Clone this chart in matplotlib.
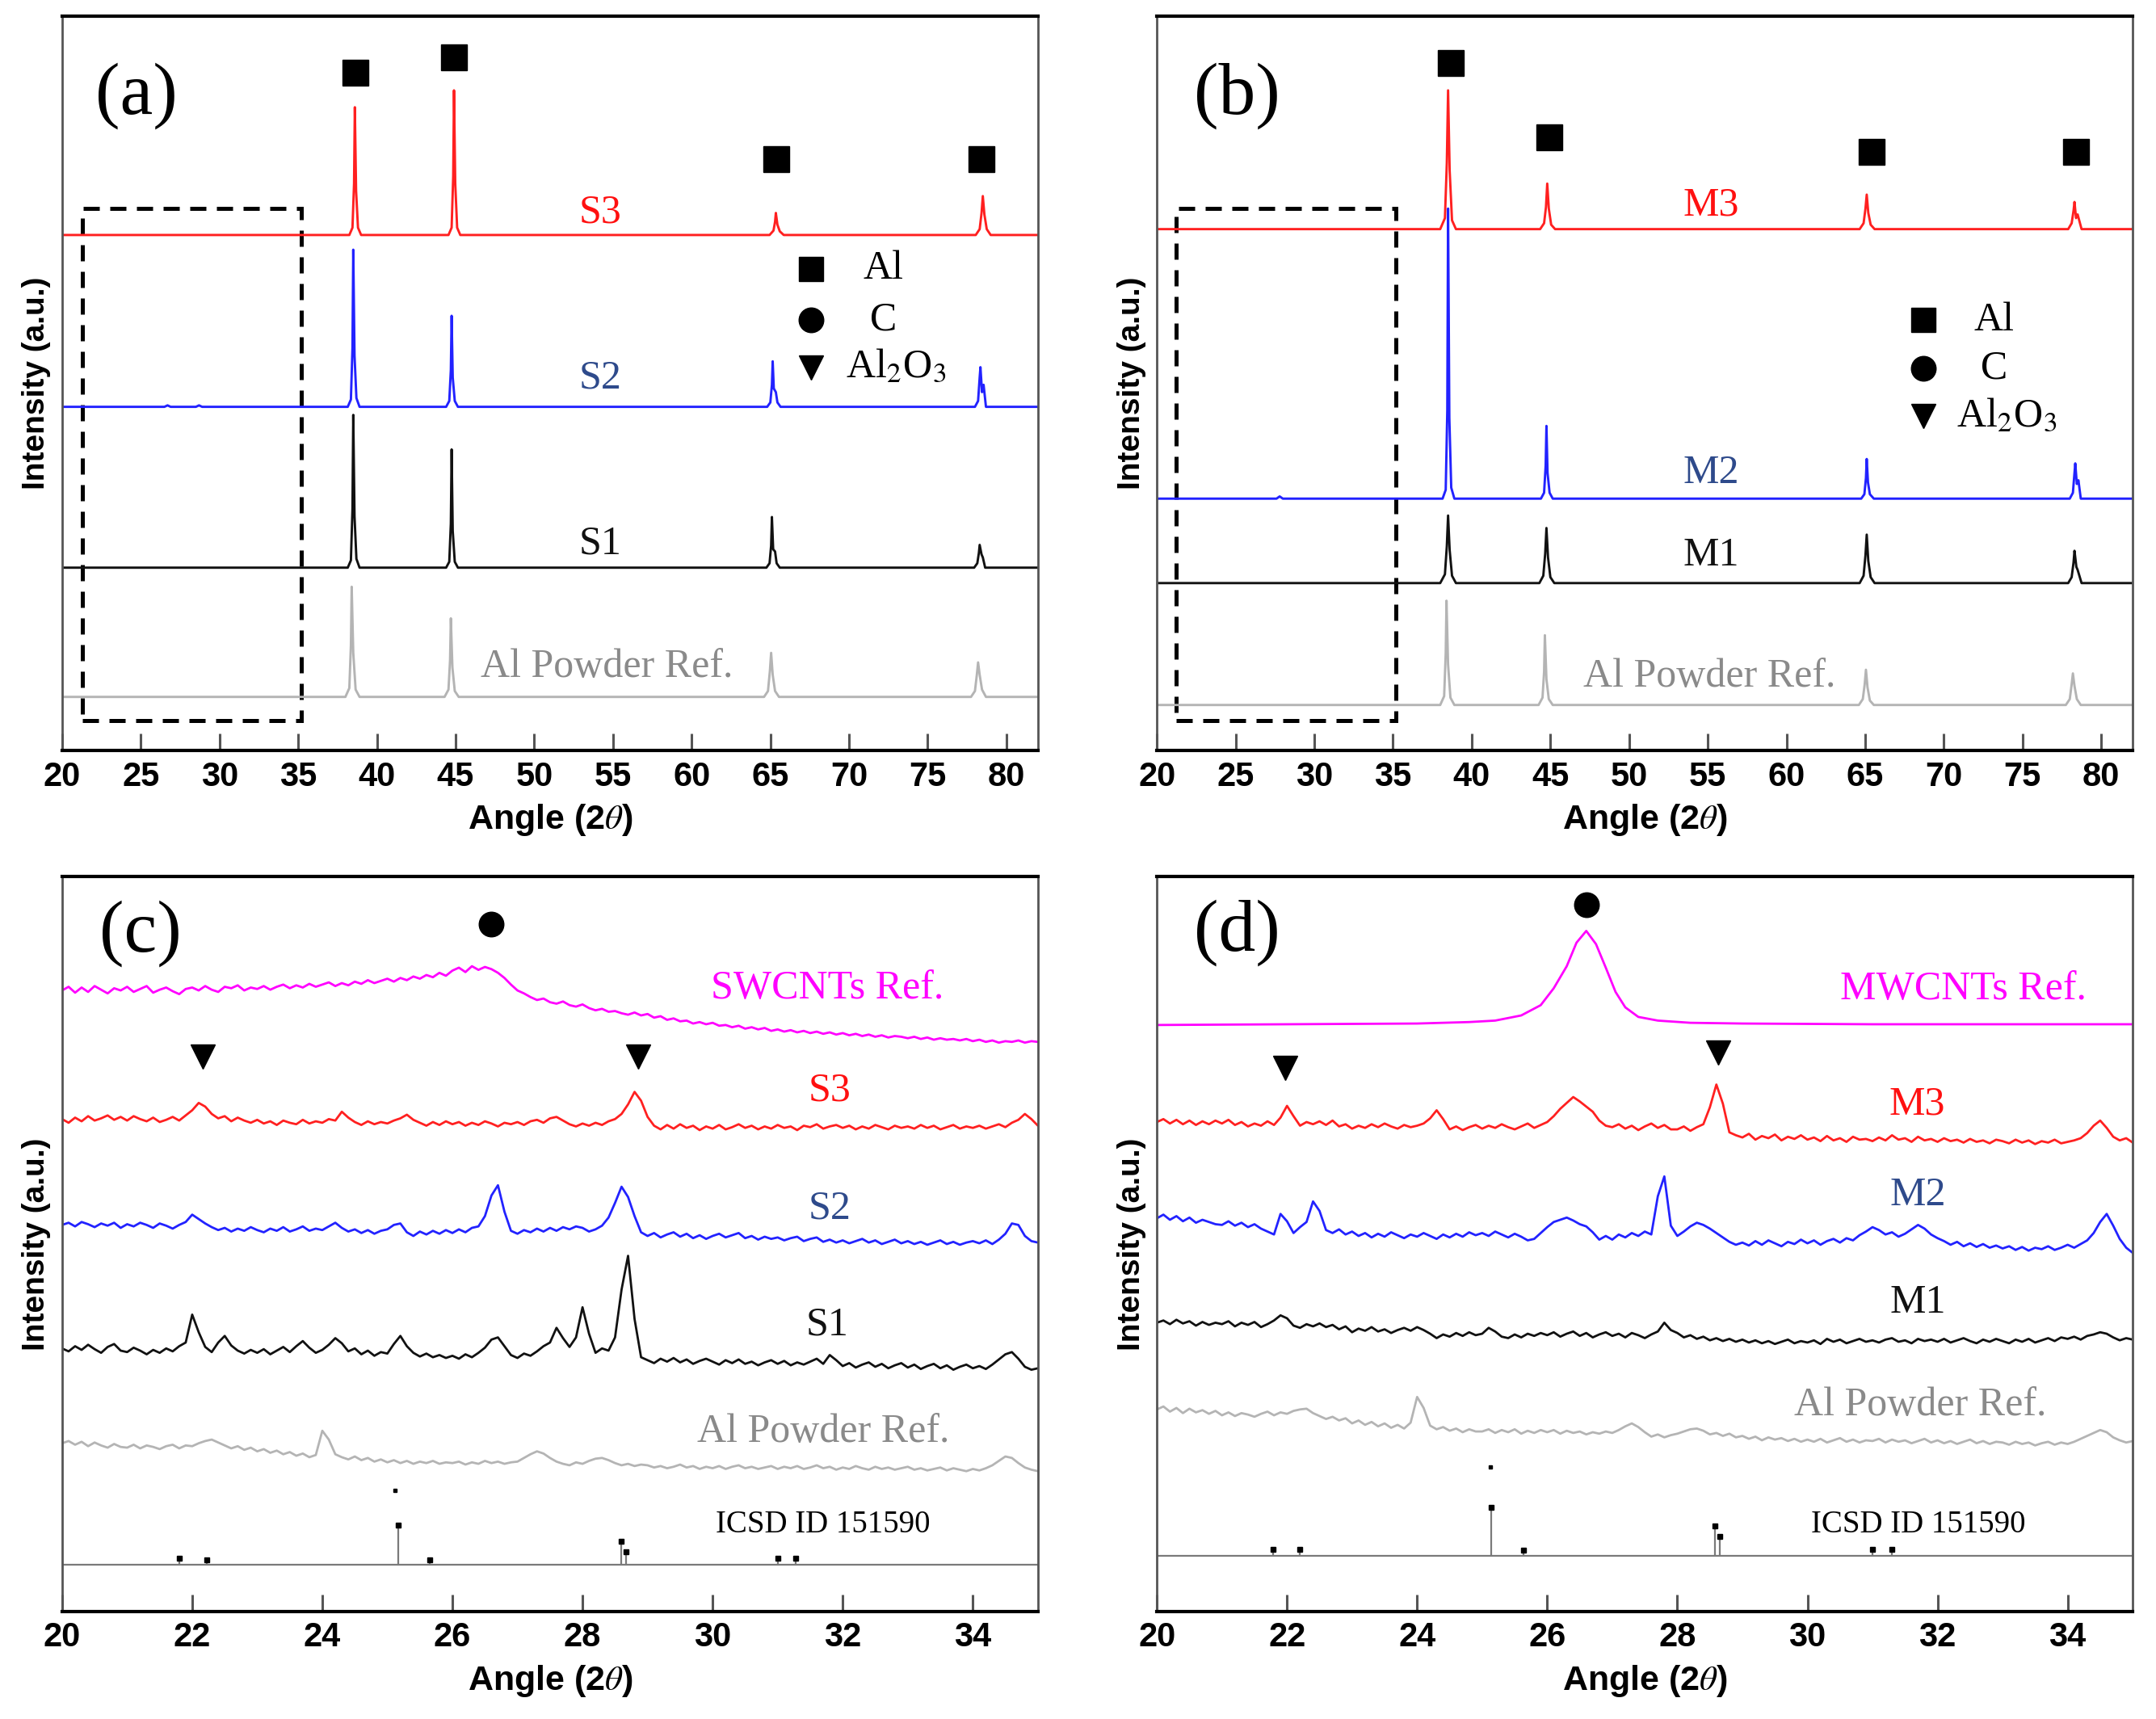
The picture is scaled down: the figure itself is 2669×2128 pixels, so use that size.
import numpy as np
import matplotlib
matplotlib.use('Agg')
import matplotlib.pyplot as plt
from matplotlib.patches import Rectangle

plt.rcParams['mathtext.fontset'] = 'stix'

# ---------------- data: panel (a), full range, SWCNT composites ----------------
# intensities in a.u. (panel height = 1000), each trace listed relative to its stack offset
a_al_x = [20, 38.0, 38.25, 38.35, 38.4, 38.5, 38.65, 38.9, 44.3, 44.55, 44.65, 44.7, 44.8, 44.95, 45.2,
          64.6, 64.85, 64.97, 65.05, 65.15, 65.3, 65.55, 77.75, 78.0, 78.12, 78.2, 78.3, 78.45, 78.7, 82]
a_al_y = [0, 0, 12, 70, 150, 60, 10, 0, 0, 10, 50, 107, 40, 8, 0,
          0, 8, 35, 60, 30, 8, 0, 0, 8, 30, 47, 30, 10, 0, 0]
a_s1_x = [20, 38.15, 38.35, 38.45, 38.5, 38.58, 38.7, 38.9, 44.4, 44.6, 44.7, 44.75, 44.82, 44.95, 45.15,
          64.75, 64.95, 65.05, 65.1, 65.18, 65.3, 65.4, 65.6, 77.95, 78.15, 78.25, 78.3, 78.42, 78.5, 78.65, 82]
a_s1_y = [0, 0, 10, 80, 208, 70, 12, 0, 0, 8, 60, 161, 50, 8, 0,
          0, 6, 30, 69, 25, 22, 6, 0, 0, 6, 20, 31, 18, 14, 0, 0]
a_s2_x = [20, 26.5, 26.7, 26.9, 28.5, 28.7, 28.9, 38.15, 38.35, 38.45, 38.5, 38.58, 38.7, 38.9,
          44.4, 44.6, 44.7, 44.75, 44.82, 44.95, 45.15, 64.8, 65.0, 65.1, 65.15, 65.22, 65.35, 65.45, 65.65,
          78.0, 78.2, 78.3, 78.35, 78.45, 78.55, 78.7, 82]
a_s2_y = [0, 0, 2, 0, 0, 2, 0, 0, 10, 80, 214, 70, 12, 0,
          0, 8, 50, 124, 40, 8, 0, 0, 6, 30, 62, 25, 20, 6, 0,
          0, 8, 40, 54, 20, 30, 0, 0]
a_s3_x = [20, 38.25, 38.45, 38.55, 38.6, 38.68, 38.8, 39.0, 44.55, 44.75, 44.85, 44.9, 44.98, 45.1, 45.3,
          64.95, 65.2, 65.3, 65.35, 65.45, 65.6, 65.85, 78.05, 78.3, 78.42, 78.5, 78.6, 78.75, 79.0, 82]
a_s3_y = [0, 0, 10, 70, 174, 60, 10, 0, 0, 10, 80, 197, 70, 10, 0,
          0, 6, 18, 30, 14, 5, 0, 0, 8, 30, 53, 28, 8, 0, 0]
a_offsets = [73, 249, 468, 702]
a_names = ['Al Powder Ref.', 'S1', 'S2', 'S3']
a_al_peaks = [38.63, 44.9, 65.4, 78.4]
a_al_marks = [923, 944, 805, 805]

# ---------------- data: panel (b), full range, MWCNT composites ----------------
b_al_x = [20, 38.0, 38.25, 38.35, 38.4, 38.5, 38.65, 38.9, 44.25, 44.5, 44.6, 44.65, 44.75, 44.9, 45.15,
          64.6, 64.85, 64.97, 65.05, 65.15, 65.3, 65.55, 77.75, 78.0, 78.12, 78.2, 78.3, 78.45, 78.7, 82]
b_al_y = [0, 0, 12, 70, 142, 55, 10, 0, 0, 10, 45, 95, 35, 8, 0,
          0, 8, 28, 48, 24, 6, 0, 0, 8, 28, 43, 26, 8, 0, 0]
b_m1_x = [20, 38.0, 38.3, 38.42, 38.5, 38.6, 38.75, 39.0, 44.3, 44.55, 44.67, 44.75, 44.85, 45.0, 45.25,
          64.65, 64.9, 65.02, 65.1, 65.2, 65.35, 65.6, 77.9, 78.12, 78.24, 78.3, 78.42, 78.5, 78.75, 82]
b_m1_y = [0, 0, 12, 50, 92, 45, 10, 0, 0, 10, 40, 75, 35, 8, 0,
          0, 10, 38, 66, 30, 8, 0, 0, 8, 28, 44, 22, 18, 0, 0]
b_m2_x = [20, 27.6, 27.8, 28.0, 38.15, 38.35, 38.45, 38.5, 38.58, 38.7, 38.9,
          44.4, 44.6, 44.7, 44.75, 44.82, 44.95, 45.15, 64.75, 64.95, 65.05, 65.1, 65.18, 65.3, 65.55,
          78.0, 78.2, 78.3, 78.35, 78.45, 78.55, 78.7, 82]
b_m2_y = [0, 0, 3, 0, 0, 12, 120, 395, 110, 15, 0,
          0, 8, 45, 99, 35, 8, 0, 0, 6, 28, 54, 22, 6, 0,
          0, 8, 35, 48, 20, 25, 0, 0]
b_m3_x = [20, 38.0, 38.3, 38.42, 38.5, 38.6, 38.75, 39.0, 44.35, 44.6, 44.72, 44.8, 44.9, 45.05, 45.3,
          64.65, 64.9, 65.02, 65.1, 65.2, 65.35, 65.6, 77.9, 78.12, 78.24, 78.3, 78.4, 78.5, 78.75, 82]
b_m3_y = [0, 0, 15, 90, 189, 80, 12, 0, 0, 8, 30, 62, 28, 6, 0,
          0, 8, 28, 47, 22, 6, 0, 0, 8, 25, 37, 15, 20, 0, 0]
b_offsets = [62, 228, 343, 710]
b_names = ['Al Powder Ref.', 'M1', 'M2', 'M3']
b_al_peaks = [38.67, 44.95, 65.4, 78.4]
b_al_marks = [936, 835, 815, 815]

# ---------------- data: panel (c), 20-35 deg zoom, SWCNT composites (step 0.1 deg) ----------------
c_swcnt = [0, 5, -3, 4, -2, 6, 1, -4, 3, 0,
           5, -2, 2, 6, -3, 1, 4, -1, -5, 2,
           4, 0, 6, 1, -2, 5, 3, 7, 0, 4,
           2, 6, 1, 5, 8, 3, 7, 4, 9, 5,
           8, 11, 6, 10, 7, 12, 9, 14, 10, 13,
           16, 12, 17, 14, 19, 16, 21, 18, 24, 20,
           27, 31, 25, 33, 28, 32, 29, 24, 17, 8,
           0, -4, -9, -13, -11, -16, -18, -15, -20, -22,
           -19, -24, -27, -25, -29, -28, -31, -33, -30, -34,
           -32, -37, -35, -40, -38, -42, -41, -45, -43, -46,
           -44, -48, -47, -50, -48, -52, -50, -53, -51, -55,
           -53, -56, -54, -57, -55, -58, -56, -59, -57, -60,
           -58, -61, -59, -62, -60, -63, -61, -64, -62, -63,
           -65, -63, -66, -64, -67, -65, -67, -66, -68, -66,
           -69, -67, -70, -68, -71, -69, -70, -68, -71, -69, -70]
c_s3 = [5, 0, 7, 2, 9, 3, 6, 10, 4, 8,
        3, 9, 5, 2, 7, 1, 4, 8, 3, 10,
        17, 27, 22, 12, 6, 9, 2, 7, 3, 0,
        4, -1, 2, -3, 3, 0, -2, 4, -1, 2,
        0, 5, 3, 15, 7, 1, -3, 2, -2, 1,
        -1, 3, 6, 11, 4, 0, -4, 1, -3, 2,
        -2, 1, -4, 0, -3, 2, -1, -5, 0, -2,
        1, -3, 2, 4, 0, 6, 8, 3, -2, -5,
        -1, -4, 0, -3, 2, 5, 12, 25, 42, 30,
        8, -4, -9, -3, -8, -2, -7, -4, -10, -5,
        -8, -3, -9, -6, -2, -7, -4, -9, -5, -8,
        -3, -7, -5, -10, -4, -6, -2, -8, -5, -3,
        -7, -4, -9, -5, -8, -3, -6, -9, -4, -7,
        -5, -8, -3, -7, -4, -9, -6, -3, -8, -5,
        -7, -4, -8, -5, -2, -6, 0, 4, 12, 5, -4]
c_s2 = [0, 3, -2, 4, 1, -3, 2, -1, 3, -4,
        1, -2, 3, 0, -4, 2, -1, -5, 0, 4,
        14, 8, 2, -3, -7, -4, -9, -5, -8, -3,
        -7, -10, -5, -8, -3, -9, -6, -2, -8, -5,
        -7, -2, 3, -4, -9, -6, -11, -7, -12, -8,
        -6, 0, 2, -10, -15, -9, -13, -8, -12, -7,
        -11, -6, -10, -4, -2, 12, 40, 54, 18, -8,
        -12, -7, -10, -5, -9, -4, -8, -3, -6, -2,
        -4, -9, -6, -1, 10, 30, 52, 38, 12, -10,
        -15, -11, -17, -13, -10, -16, -12, -18, -14, -19,
        -15, -12, -17, -14, -11, -18, -15, -20, -16, -19,
        -17, -21, -18, -16, -22, -19, -17, -23, -20, -24,
        -21, -25, -22, -19, -24, -21, -26, -23, -20, -25,
        -22, -26, -23, -27, -24, -21, -26, -23, -27, -24,
        -22, -25, -21, -26, -20, -12, 2, 0, -15, -22, -24]
c_s1 = [0, -4, 3, -2, 5, -1, -6, 2, 6, -3,
        -5, 1, -3, -8, -2, -6, 0, -4, 3, 8,
        46, 22, 2, -5, 8, 17, 4, -3, -7, -2,
        -6, -1, -8, -3, 2, -5, 3, 10, 1, -6,
        -2, 5, 14, 7, -4, 0, -8, -3, -10, -5,
        -7, 6, 17, 3, -6, -11, -7, -12, -9, -13,
        -10, -14, -8, -12, -6, 1, 12, 15, 3, -9,
        -13, -7, -10, -4, 3, 8, 28, 14, 2, 15,
        56, 20, -6, 0, -3, 15, 80, 126, 40, -12,
        -16, -20, -14, -18, -13, -19, -15, -21, -17, -14,
        -18, -22, -16, -20, -15, -21, -18, -23, -19, -16,
        -21, -17, -23, -19, -22, -18, -14, -21, -9, -16,
        -24, -20, -26, -22, -19, -25, -21, -27, -23, -20,
        -26, -22, -28, -24, -21, -27, -23, -29, -25, -22,
        -27, -24, -28, -22, -15, -8, -5, -14, -25, -29, -27]
c_al = [0, 3, -2, 2, -4, 1, -3, -6, -1, -5,
        -6, -2, -7, -3, -5, -8, -4, -2, -7, -3,
        -4, 0, 3, 5, 1, -3, -7, -4, -9, -6,
        -11, -8, -13, -10, -15, -12, -17, -14, -19, -16,
        17, 5, -15, -19, -22, -18, -23, -20, -25, -22,
        -26, -23, -27, -24, -28, -25, -27, -24, -28, -26,
        -27, -25, -29, -26, -28, -24, -27, -25, -28, -26,
        -25, -20, -15, -11, -14, -20, -25, -28, -30, -26,
        -28, -24, -21, -20, -23, -27, -30, -28, -31, -29,
        -30, -33, -31, -34, -32, -29, -33, -31, -35, -32,
        -34, -31, -35, -32, -30, -34, -32, -35, -33, -31,
        -35, -32, -34, -31, -35, -33, -30, -34, -32, -36,
        -33, -35, -31, -34, -36, -32, -35, -33, -36, -34,
        -32, -36, -34, -37, -35, -33, -37, -34, -36, -38,
        -35, -37, -34, -30, -24, -18, -20, -27, -33, -36, -38]
c_offsets = [229, 358, 526, 665, 845]
c_names = ['Al Powder Ref.', 'S1', 'S2', 'S3', 'SWCNTs Ref.']
c_icsd_pos = [21.8, 22.23, 25.17, 25.65, 28.6, 28.67, 31.0, 31.28]
c_icsd_h = [8, 6, 54, 6, 32, 17, 8, 8]
c_icsd_base = 64

# ---------------- data: panel (d), 20-35 deg zoom, MWCNT composites (step 0.1 deg) ----------------
d_mwcnt_x = [20, 22, 24, 24.8, 25.2, 25.6, 25.9, 26.1, 26.3, 26.45, 26.6, 26.75, 26.9, 27.05,
             27.2, 27.4, 27.7, 28.2, 29, 31, 35]
d_mwcnt_y = [0, 1, 2, 4, 6, 13, 27, 50, 80, 112, 128, 110, 78, 45,
             24, 11, 6, 3, 2, 1, 1]
d_m3 = [0, 4, -2, 3, -3, 2, -4, 1, -3, 2,
        -2, 3, -4, 0, -6, -2, -5, 1, -4, 6,
        22, 8, -5, 0, -3, 1, -4, 2, -6, -3,
        -9, -5, -8, -3, -7, -2, -6, -9, -4, -7,
        -5, -2, 5, 16, 4, -10, -6, -11, -7, -4,
        -9, -5, -8, -3, -7, -10, -6, -2, -8, -4,
        0, 8, 18, 26, 34, 28, 21, 14, 2, -5,
        -7, -3, -9, -5, -11, -6, -2, -8, -4, -10,
        -10, -6, -12, -7, -3, 20, 51, 25, -14, -18,
        -21, -16, -24, -19, -22, -17, -25, -20, -23, -18,
        -24, -21, -26, -19, -25, -22, -27, -20, -24, -23,
        -26, -21, -25, -18, -24, -22, -27, -20, -25, -23,
        -27, -22, -26, -24, -28, -23, -27, -25, -29, -24,
        -26, -29, -24, -28, -25, -30, -26, -28, -24, -29,
        -27, -25, -22, -15, -5, 2, -8, -20, -25, -22, -28]
d_m2 = [0, 5, -2, 3, -4, 1, -6, -2, -5, -8,
        -9, -4, -10, -6, -12, -8, -14, -18, -22, 6,
        -4, -20, -12, -5, 23, 10, -16, -20, -15, -22,
        -18, -24, -20, -26, -21, -25, -19, -23, -27, -22,
        -25, -20, -24, -28, -22, -26, -21, -25, -19, -23,
        -20, -24, -18, -22, -26, -21, -25, -30, -28, -20,
        -12, -5, -2, 1, -3, -8, -11, -19, -29, -24,
        -29, -22, -26, -20, -24, -18, -22, 30, 57, -10,
        -24, -18, -11, -6, -9, -14, -20, -26, -32, -36,
        -33, -37, -31, -36, -30, -34, -38, -32, -35, -29,
        -34, -30, -36, -31, -28, -33, -27, -30, -23, -18,
        -12, -16, -22, -19, -25, -21, -15, -9, -14, -22,
        -27, -31, -36, -32, -38, -34, -39, -35, -40, -37,
        -41, -38, -43, -39, -44, -40, -42, -38, -43, -40,
        -36, -40, -35, -30, -20, -5, 6, -10, -28, -40, -47]
d_m1 = [0, 3, -2, 4, -1, 2, -4, 1, -3, 0,
        -2, 2, -5, 0, -3, 1, -6, -2, 3, 10,
        6, -4, -7, -2, -5, -1, -6, -3, -9, -5,
        -13, -8, -11, -6, -12, -9, -14, -10, -7, -11,
        -6, -10, -15, -21, -16, -19, -14, -18, -13, -17,
        -15, -7, -12, -19, -21, -16, -20, -15, -18, -14,
        -17, -13, -19, -15, -12, -18, -14, -20, -16, -13,
        -18, -15, -20, -14, -17, -21, -16, -12, 0, -10,
        -14, -20, -17, -22, -19, -24, -21, -25, -22, -26,
        -23, -27, -24, -28, -25, -29, -26, -23, -28, -25,
        -27, -24, -29, -22, -26, -23, -28, -25, -22, -26,
        -24, -27, -23, -21, -26, -24, -28, -22, -25, -23,
        -26, -22, -27, -24, -21, -25, -28, -23, -26, -22,
        -25, -28, -23, -26, -22, -27, -24, -21, -25, -20,
        -22, -19, -23, -18, -16, -13, -15, -20, -24, -21, -23]
d_al = [0, 4, -3, 2, -5, 1, -4, -1, -6, -2,
        -8, -4, -9, -5, -7, -10, -6, -3, -8, -4,
        -6, -2, 0, 1, -5, -9, -13, -10, -15, -12,
        -19, -15, -21, -17, -23, -19, -25, -21, -26, -18,
        17, 2, -22, -27, -24, -29, -26, -31, -27, -30,
        -30, -27, -32, -28, -31, -27, -33, -29, -32, -28,
        -31, -28, -33, -29, -32, -30, -34, -31, -33, -30,
        -32, -28, -23, -19, -24, -31, -37, -34, -38, -35,
        -33, -30, -27, -26, -29, -34, -32, -36, -33, -38,
        -36, -40, -37, -42, -38, -41, -39, -43, -40, -44,
        -41, -44, -40, -45, -42, -39, -44, -41, -45, -42,
        -43, -40, -45, -41, -44, -42, -46, -43, -40, -45,
        -42, -46, -43, -47, -44, -41, -46, -43, -47, -44,
        -45, -48, -44, -47, -45, -49, -46, -44, -48, -45,
        -47, -44, -40, -36, -32, -28, -31, -38, -42, -45, -43]
d_offsets = [275, 393, 535, 666, 798]
d_names = ['Al Powder Ref.', 'M1', 'M2', 'M3', 'MWCNTs Ref.']
d_icsd_pos = [21.79, 22.2, 25.14, 25.63, 28.58, 28.65, 31.0, 31.3]
d_icsd_h = [9, 9, 66, 8, 41, 26, 9, 9]
d_icsd_base = 76

# ---------------- styling ----------------
line_cols = ['#b4b4b4', '#111111', '#2222ff', '#ff2020', '#ff00ff']
text_cols = ['#8a8a8a', '#111111', '#2e4a8b', '#ff1010', '#ff00ff']
SERIF = 'Liberation Serif'
SANS = 'Liberation Sans'

fig = plt.figure(figsize=(26.69, 21.28), dpi=100)
ax_a = fig.add_axes([0.0288, 0.5634, 0.4526, 0.4272])
ax_b = fig.add_axes([0.5366, 0.5634, 0.4526, 0.4272])
ax_c = fig.add_axes([0.0288, 0.0625, 0.4526, 0.4276])
ax_d = fig.add_axes([0.5366, 0.0625, 0.4526, 0.4276])


def style_axes(ax, xlim, xticks, tag, tag_xy):
    ax.set_xlim(*xlim)
    ax.set_ylim(0, 1000)
    ax.set_xticks(xticks)
    ax.set_yticks([])
    ax.tick_params(axis='x', direction='in', length=15, width=2.2, color='#555555', pad=9)
    for lab in ax.get_xticklabels():
        lab.set_fontfamily(SANS)
        lab.set_fontweight('bold')
        lab.set_fontsize(30)
    for s in ['top', 'bottom']:
        ax.spines[s].set_linewidth(3)
        ax.spines[s].set_color('black')
    for s in ['left', 'right']:
        ax.spines[s].set_linewidth(2)
        ax.spines[s].set_color('#555555')
    ax.set_xlabel(r'Angle (2$\mathbf{\mathit{\theta}}$)', fontfamily=SANS, fontweight='bold', fontsize=31)
    ax.xaxis.set_label_coords(0.5, -0.095)
    ax.xaxis.label.set_va('center')
    ax.set_ylabel('Intensity (a.u.)', fontfamily=SANS, fontweight='bold', fontsize=28)
    ax.yaxis.set_label_coords(-0.026, 0.5)
    ax.yaxis.label.set_va('center')
    ax.text(tag_xy[0], tag_xy[1], tag, fontfamily=SERIF, fontsize=66,
            ha='center', va='center')


def phase_legend(ax, mx, tx, ys):
    ax.plot(mx, ys[0], 's', color='black', ms=22)
    ax.plot(mx, ys[1], 'o', color='black', ms=22)
    ax.plot(mx, ys[2], 'v', color='black', ms=22)
    ax.text(tx, ys[0], 'Al', fontfamily=SERIF, fontsize=36, ha='center', va='center')
    ax.text(tx, ys[1], 'C', fontfamily=SERIF, fontsize=36, ha='center', va='center')
    ax.text(tx + 0.8, ys[2], r'Al$_2$O$_3$', fontfamily=SERIF, fontsize=36, ha='center', va='center')


DASH = dict(fill=False, ec='black', lw=3.6, ls=(0, (4, 2.6)))

# ---- (a) ----
a_traces = [(a_al_x, a_al_y), (a_s1_x, a_s1_y), (a_s2_x, a_s2_y), (a_s3_x, a_s3_y)]
a_lab_y = [114, 281, 507, 732]
a_lab_x = [54.6, 54.2, 54.2, 54.2]
for i, (xs, ys) in enumerate(a_traces):
    ax_a.plot(xs, np.array(ys) + a_offsets[i], color=line_cols[i], lw=2.1)
    ax_a.text(a_lab_x[i], a_lab_y[i], a_names[i], color=text_cols[i], fontfamily=SERIF,
              fontsize=36, ha='center', va='center')
ax_a.plot(a_al_peaks, a_al_marks, 's', color='black', ms=23, ls='none')
phase_legend(ax_a, 67.6, 72.2, [656, 586, 522])
ax_a.add_patch(Rectangle((21.28, 41), 35.2 - 21.28, 738 - 41, **DASH))
style_axes(ax_a, (20, 82), range(20, 81, 5), '(a)', (24.7, 891))

# ---- (b) ----
b_traces = [(b_al_x, b_al_y), (b_m1_x, b_m1_y), (b_m2_x, b_m2_y), (b_m3_x, b_m3_y)]
b_lab_y = [101, 266, 378, 742]
b_lab_x = [55.1, 55.2, 55.2, 55.2]
for i, (xs, ys) in enumerate(b_traces):
    ax_b.plot(xs, np.array(ys) + b_offsets[i], color=line_cols[i], lw=2.1)
    ax_b.text(b_lab_x[i], b_lab_y[i], b_names[i], color=text_cols[i], fontfamily=SERIF,
              fontsize=36, ha='center', va='center')
ax_b.plot(b_al_peaks, b_al_marks, 's', color='black', ms=23, ls='none')
phase_legend(ax_b, 68.7, 73.2, [586, 520, 455])
ax_b.add_patch(Rectangle((21.2, 41), 35.2 - 21.2, 738 - 41, **DASH))
style_axes(ax_b, (20, 82), range(20, 81, 5), '(b)', (25.1, 891))


def draw_icsd(ax, pos, h, base):
    ax.axhline(base, color='#7a7a7a', lw=1.6)
    ax.vlines(pos, base, base + np.array(h), color='#7a7a7a', lw=1.6)
    ax.plot(pos, base + np.array(h), 's', color='black', ms=4, ls='none')
    ax.text(31.7, 118, 'ICSD ID 151590', fontfamily=SERIF, fontsize=28, ha='center', va='center')


# ---- (c) ----
c_traces = [c_al, c_s1, c_s2, c_s3, c_swcnt]
c_lab = [(31.7, 244), (31.76, 390), (31.8, 548), (31.8, 709), (31.76, 848)]
for i, ys in enumerate(c_traces):
    xs = np.linspace(20, 35, len(ys))
    ax_c.plot(xs, np.array(ys) + c_offsets[i], color=line_cols[i], lw=2.0)
    ax_c.text(c_lab[i][0], c_lab[i][1], c_names[i], color=text_cols[i], fontfamily=SERIF,
              fontsize=36, ha='center', va='center')
draw_icsd(ax_c, c_icsd_pos, c_icsd_h, c_icsd_base)
ax_c.plot([25.12], [c_icsd_base + 101], 's', color='black', ms=3)
ax_c.plot([26.6], [935], 'o', color='black', ms=22)
ax_c.plot([22.16, 28.85], [755, 755], 'v', color='black', ms=22, ls='none')
style_axes(ax_c, (20, 35), range(20, 35, 2), '(c)', (21.2, 922))

# ---- (d) ----
d_lab = [(31.74, 281), (31.7, 420), (31.7, 566), (31.68, 690), (32.4, 847)]
d_traces = [d_al, d_m1, d_m2, d_m3]
for i, ys in enumerate(d_traces):
    xs = np.linspace(20, 35, len(ys))
    ax_d.plot(xs, np.array(ys) + d_offsets[i], color=line_cols[i], lw=2.0)
ax_d.plot(d_mwcnt_x, np.array(d_mwcnt_y) + d_offsets[4], color=line_cols[4], lw=2.0)
for i in range(5):
    ax_d.text(d_lab[i][0], d_lab[i][1], d_names[i], color=text_cols[i], fontfamily=SERIF,
              fontsize=36, ha='center', va='center')
draw_icsd(ax_d, d_icsd_pos, d_icsd_h, d_icsd_base)
ax_d.plot([25.12], [d_icsd_base + 121], 's', color='black', ms=3)
ax_d.plot([26.6], [962], 'o', color='black', ms=22)
ax_d.plot([21.97, 28.63], [740, 760], 'v', color='black', ms=22, ls='none')
style_axes(ax_d, (20, 35), range(20, 35, 2), '(d)', (21.23, 924))

fig.savefig('out.png', dpi=100)
